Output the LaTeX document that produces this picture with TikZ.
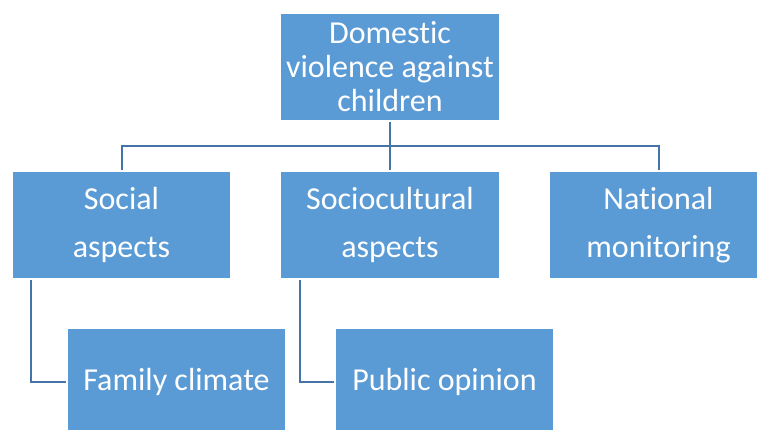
\documentclass[tikz,border=0pt]{standalone}
\usepackage{fontspec}
\setmainfont[Ligatures=NoCommon]{Carlito}
\usepackage{tikz}
\usetikzlibrary{positioning}
\definecolor{boxblue}{HTML}{5B9BD5}
\definecolor{linkblue}{HTML}{4474A8}

\begin{document}
\begin{tikzpicture}[x=1pt,y=1pt,
  topic/.style={rectangle,fill=boxblue,draw=white,line width=1.2pt,
    minimum width=219pt,minimum height=108pt,inner sep=4pt,
    text=white,align=center,font=\fontsize{32}{34}\selectfont},
  subtopic/.style={topic,font=\fontsize{32}{48}\selectfont},
  link/.style={draw=linkblue,line width=2pt}]
\useasboundingbox (0,0) rectangle (757,-430);
\clip (0,0) rectangle (757,-430);
\node[topic] (dv) at (390,-67) {Domestic\\violence against\\children};
\node[subtopic] (social) at (121.5,-225) {Social\\aspects};
\node[subtopic] (socio) at (390,-225) {Sociocultural\\aspects};
\node[subtopic] (nat) at (658.5,-225) {National\\monitoring};
\node[topic] (family) at (176.5,-382) {Family climate};
\node[topic] (opinion) at (444.5,-382) {Public opinion};
\coordinate (bus) at (390,-146);
\draw[link] (dv.south) -- (socio.north);
\draw[link] (social.north) |- (bus) -| (nat.north);
\draw[link] ([xshift=20pt]social.south west) |- (family.west);
\draw[link] ([xshift=20pt]socio.south west) |- (opinion.west);
\end{tikzpicture}
\end{document}
